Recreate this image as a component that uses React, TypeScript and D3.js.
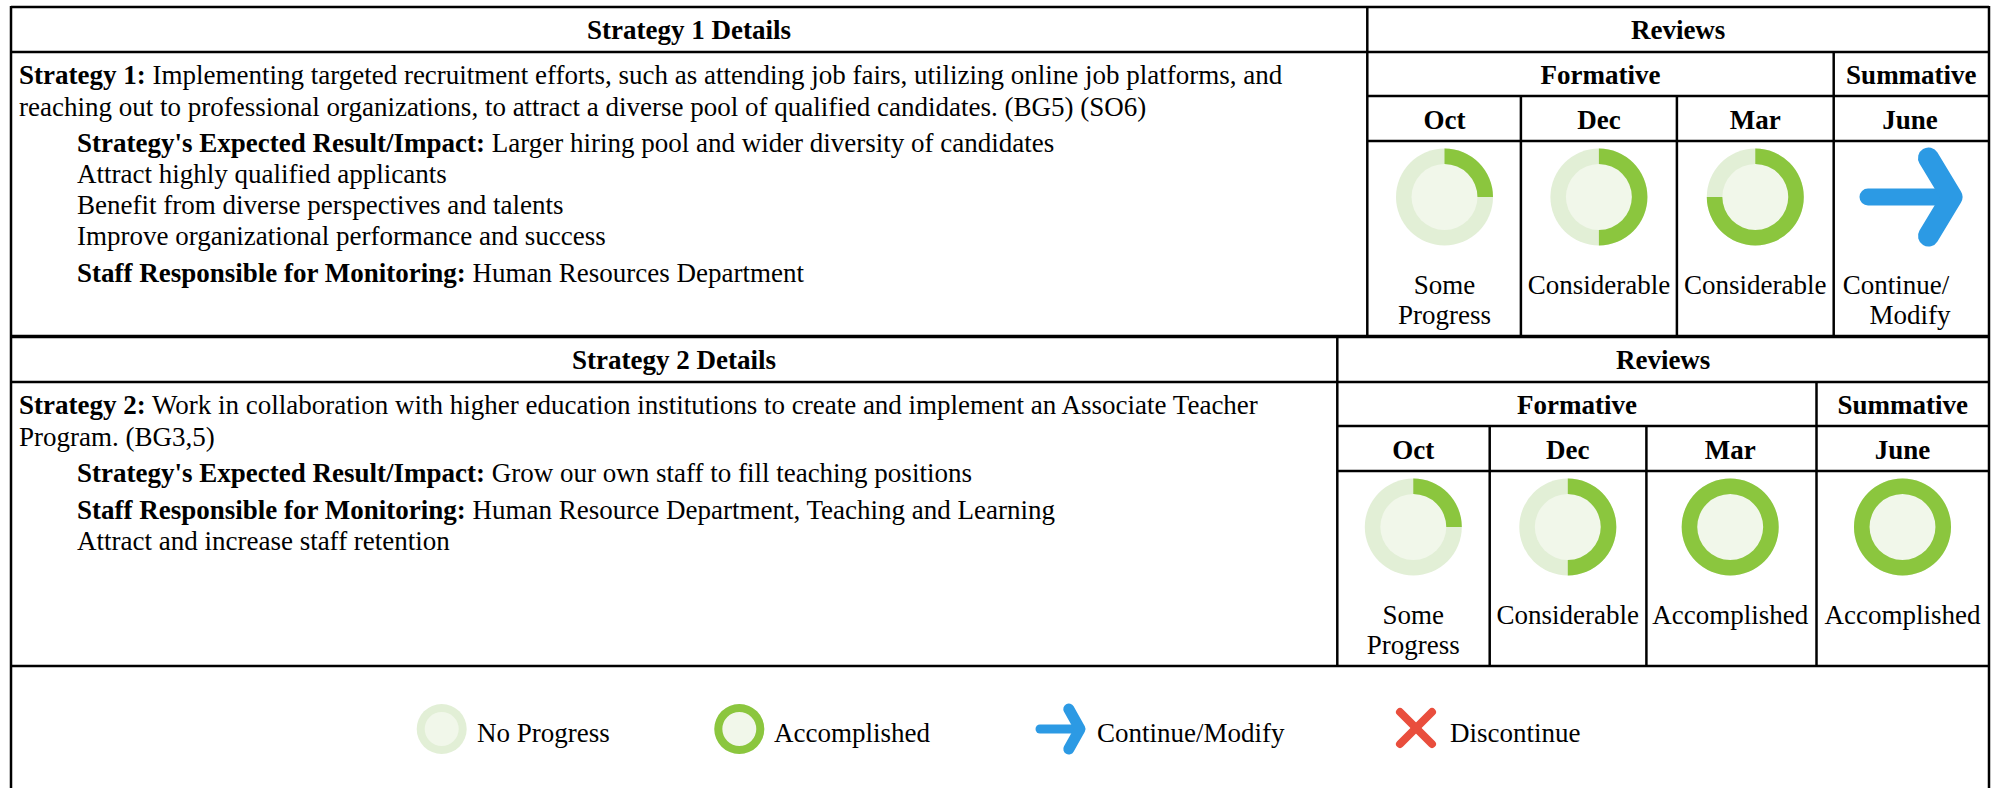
import React from 'react'
import * as d3 from 'd3'

// strategy 1
const s1Months = ['Oct', 'Dec', 'Mar', 'June']
const s1Progress = [0.25, 0.5, 0.75, null]
const s1Status = [['Some', 'Progress'], ['Considerable'], ['Considerable'], ['Continue/', 'Modify']]
// strategy 2
const s2Months = ['Oct', 'Dec', 'Mar', 'June']
const s2Progress = [0.25, 0.5, 1, 1]
const s2Status = [['Some', 'Progress'], ['Considerable'], ['Accomplished'], ['Accomplished']]

const legendLabels = ['No Progress', 'Accomplished', 'Continue/Modify', 'Discontinue']

const s1Lines = [
  { bold: 'Strategy 1:', text: ' Implementing targeted recruitment efforts, such as attending job fairs, utilizing online job platforms, and', x: 19, dy: 77 },
  { bold: '', text: 'reaching out to professional organizations, to attract a diverse pool of qualified candidates. (BG5) (SO6)', x: 19, dy: 109 },
  { bold: "Strategy's Expected Result/Impact:", text: ' Larger hiring pool and wider diversity of candidates', x: 77, dy: 145 },
  { bold: '', text: 'Attract highly qualified applicants', x: 77, dy: 176 },
  { bold: '', text: 'Benefit from diverse perspectives and talents', x: 77, dy: 207 },
  { bold: '', text: 'Improve organizational performance and success', x: 77, dy: 238 },
  { bold: 'Staff Responsible for Monitoring:', text: ' Human Resources Department', x: 77, dy: 275 },
]
const s2Lines = [
  { bold: 'Strategy 2:', text: ' Work in collaboration with higher education institutions to create and implement an Associate Teacher', x: 19, dy: 77 },
  { bold: '', text: 'Program. (BG3,5)', x: 19, dy: 109 },
  { bold: "Strategy's Expected Result/Impact:", text: ' Grow our own staff to fill teaching positions', x: 77, dy: 145 },
  { bold: 'Staff Responsible for Monitoring:', text: ' Human Resource Department, Teaching and Learning', x: 77, dy: 182 },
  { bold: '', text: 'Attract and increase staff retention', x: 77, dy: 213 },
]

const width = 1997
const height = 788
const right = 1989
const font = '"Liberation Serif", "Times New Roman", serif'
const fontSize = 27
const green = '#8bc63e'
const pale = '#e2efd6'
const paler = '#f1f7ea'
const blue = '#2c9ae4'
const red = '#e94e3d'

const angle = d3.scaleLinear().domain([0, 1]).range([0, 2 * Math.PI])
const arc = d3.arc()

function Donut({ cx, cy, r, value }: { cx: number; cy: number; r: number; value: number }) {
  const inner = r * 0.68
  return (
    <g transform={`translate(${cx},${cy})`}>
      <circle r={r} fill={pale} />
      <circle r={inner} fill={paler} />
      {value > 0 && (
        <path
          fill={green}
          d={arc({ innerRadius: inner, outerRadius: r, startAngle: 0, endAngle: angle(value) }) as string}
        />
      )}
    </g>
  )
}

function Arrow({ cx, cy, sx, sy, w, hw }: { cx: number; cy: number; sx: number; sy: number; w: number; hw: number }) {
  const line = d3.line()
  return (
    <g transform={`translate(${cx},${cy})`} fill="none" stroke={blue} strokeLinecap="round" strokeLinejoin="round">
      <path strokeWidth={w} d={line([[-sx, 0], [sx, 0]]) as string} />
      <path strokeWidth={hw} d={line([[sx * 0.44, -sy], [sx, 0], [sx * 0.44, sy]]) as string} />
    </g>
  )
}

function Table({ top, left, edges, centers, months, progress, status, statusShift, lines, title, headLeft }: any) {
  const bottom = top + 329
  const rows = [top, top + 45, top + 89, top + 134]
  return (
    <g>
      <g stroke="#000" strokeWidth={2.5}>
        <line x1={11} x2={right} y1={top} y2={top} />
        <line x1={11} x2={right} y1={rows[1]} y2={rows[1]} />
        <line x1={left} x2={right} y1={rows[2]} y2={rows[2]} />
        <line x1={left} x2={right} y1={rows[3]} y2={rows[3]} />
        <line x1={11} x2={right} y1={bottom} y2={bottom} />
        <line x1={left} x2={left} y1={top} y2={bottom} />
        {edges.slice(1).map((e: number, i: number) => (
          <line key={i} x1={e} x2={e} y1={i === 2 ? rows[1] : rows[2]} y2={bottom} />
        ))}
      </g>
      <g fontFamily={font} fontSize={fontSize} fill="#000">
        <text x={headLeft} y={top + 32} textAnchor="middle" fontWeight="bold">{title}</text>
        <text x={(left + right) / 2} y={top + 32} textAnchor="middle" fontWeight="bold">Reviews</text>
        <text x={(left + edges[3]) / 2} y={top + 77} textAnchor="middle" fontWeight="bold">Formative</text>
        <text x={(edges[3] + right) / 2} y={top + 77} textAnchor="middle" fontWeight="bold">Summative</text>
        {months.map((m: string, i: number) => (
          <text key={m} x={centers[i]} y={top + 122} textAnchor="middle" fontWeight="bold">{m}</text>
        ))}
        {lines.map((l: any, i: number) => (
          <text key={i} x={l.x} y={top + l.dy} xmlSpace="preserve">
            {l.bold && <tspan fontWeight="bold">{l.bold}</tspan>}
            <tspan>{l.text}</tspan>
          </text>
        ))}
        {status.map((s: string[], i: number) =>
          s.map((t, j) => (
            <text key={t + i} x={centers[i] + (statusShift ? statusShift[i][j] : 0)} y={top + 287 + j * 30} textAnchor="middle">{t}</text>
          ))
        )}
      </g>
      {progress.map((p: number | null, i: number) =>
        p === null ? (
          <Arrow key={i} cx={centers[i]} cy={top + 190} sx={42} sy={39} w={17} hw={21} />
        ) : (
          <Donut key={i} cx={centers[i]} cy={top + 190} r={48.5} value={p} />
        )
      )}
    </g>
  )
}

function App() {
  return (
    <svg width={width} height={height} style={{ position: 'fixed', left: 0, top: 0, background: '#fff' }}>
      <Table
        top={7}
        left={1367.3}
        edges={[1367.3, 1520.9, 1676.9, 1833.7]}
        centers={[1444.5, 1598.9, 1755.3, 1910]}
        months={s1Months}
        progress={s1Progress}
        status={s1Status}
        statusShift={[[0, 0], [0], [0], [-14, 0]]}
        lines={s1Lines}
        title="Strategy 1 Details"
        headLeft={689}
      />
      <Table
        top={337}
        left={1337.3}
        edges={[1337.3, 1489.7, 1646.4, 1816.5]}
        centers={[1413.3, 1567.8, 1730.2, 1902.5]}
        months={s2Months}
        progress={s2Progress}
        status={s2Status}
        lines={s2Lines}
        title="Strategy 2 Details"
        headLeft={674}
      />
      <line x1={11} x2={11} y1={6} y2={height} stroke="#000" strokeWidth={2.5} />
      <line x1={right} x2={right} y1={6} y2={height} stroke="#000" strokeWidth={2.5} />
      <Donut cx={441.7} cy={729} r={25} value={0} />
      <Donut cx={739.3} cy={729} r={25} value={1} />
      <Arrow cx={1060} cy={729} sx={20} sy={20} w={9} hw={11} />
      <g stroke={red} strokeWidth={8} strokeLinecap="round">
        <line x1={1400} x2={1432} y1={712} y2={744} />
        <line x1={1432} x2={1400} y1={712} y2={744} />
      </g>
      <g fontFamily={font} fontSize={fontSize} fill="#000">
        <text x={477} y={742}>{legendLabels[0]}</text>
        <text x={774} y={742}>{legendLabels[1]}</text>
        <text x={1097} y={742}>{legendLabels[2]}</text>
        <text x={1450} y={742}>{legendLabels[3]}</text>
      </g>
    </svg>
  )
}

export default App
